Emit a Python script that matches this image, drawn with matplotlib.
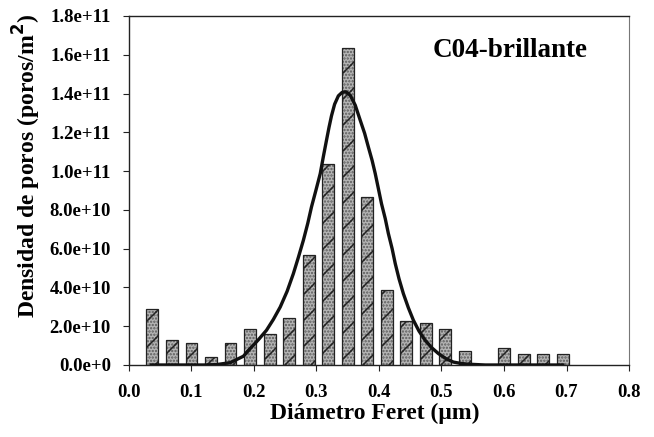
import matplotlib
matplotlib.use("Agg")
import matplotlib.pyplot as plt
import numpy as np

# lower dpi so the hatch lines come out as tight as in the original
DPI = 78
S = 100.0 / DPI

plt.rcParams['font.family'] = ['Liberation Serif', 'DejaVu Serif']
plt.rcParams['font.weight'] = 'bold'
plt.rcParams['hatch.linewidth'] = 1.1 * S

# bar centres (um) and pore density (x1e10 poros/m2)
diam = [0.0375, 0.0688, 0.1000, 0.1313, 0.1625, 0.1938, 0.2250, 0.2563,
        0.2875, 0.3188, 0.3500, 0.3813, 0.4125, 0.4438, 0.4750, 0.5063,
        0.5375, 0.5688, 0.6000, 0.6313, 0.6625, 0.6938]
dens = [2.89, 1.31, 1.15, 0.43, 1.15, 1.88, 1.58, 2.42,
        5.69, 10.39, 16.37, 8.66, 3.85, 2.25, 2.15, 1.87,
        0.72, 0.0, 0.86, 0.57, 0.57, 0.57]

# fitted curve
fit_x = [0.036, 0.08, 0.12, 0.14, 0.162, 0.183, 0.194, 0.207, 0.220, 0.231,
         0.242, 0.253, 0.263, 0.271, 0.279, 0.286, 0.292, 0.299, 0.306, 0.311,
         0.316, 0.320, 0.324, 0.329, 0.335, 0.341, 0.347, 0.354, 0.362, 0.370,
         0.377, 0.383, 0.389, 0.394, 0.399, 0.404, 0.410, 0.415, 0.421, 0.426,
         0.432, 0.439, 0.447, 0.455, 0.464, 0.474, 0.484, 0.495, 0.507, 0.519,
         0.531, 0.543, 0.57, 0.62, 0.694]
fit_y = [0.0, 0.0, 0.0, 0.02, 0.12, 0.45, 0.85, 1.30, 1.79, 2.35,
         2.99, 3.80, 4.71, 5.55, 6.43, 7.30, 8.15, 9.00, 9.87, 10.75,
         11.59, 12.25, 12.85, 13.45, 13.88, 14.06, 14.09, 13.91, 13.40, 12.62,
         11.95, 11.24, 10.55, 9.87, 9.10, 8.32, 7.55, 6.78, 6.00, 5.23,
         4.45, 3.68, 2.95, 2.31, 1.75, 1.27, 0.90, 0.59, 0.33, 0.15,
         0.08, 0.04, 0.0, 0.0, 0.0]

dens = np.array(dens) * 1e10
fit_y = np.array(fit_y) * 1e10

fig = plt.figure(figsize=(654 / DPI, 437 / DPI), dpi=DPI)
ax = fig.add_axes([0.1972, 0.1648, 0.7646, 0.7986])

ax.bar(diam, dens, width=0.019, color='#b4b4b4', hatch='....',
       edgecolor='#5a5a5a', linewidth=0, zorder=2)
ax.bar(diam, dens, width=0.019, facecolor='none', hatch='/',
       edgecolor='#222222', linewidth=0.9 * S, zorder=3)
ax.plot(fit_x, fit_y, color='#111111', linewidth=2.4 * S, zorder=4)

ax.set_xlim(0, 0.8)
ax.set_ylim(0, 1.8e11)
xt = np.arange(0, 0.81, 0.1)
ax.set_xticks(xt)
ax.set_xticklabels(['%.1f' % v for v in xt])
yt = np.arange(0, 1.81e11, 2e10)
ax.set_yticks(yt)
ylab = ['0.0e+0'] + ['%.1fe+10' % (v / 1e10) for v in yt[1:5]] + \
       ['%.1fe+11' % (v / 1e11) for v in yt[5:]]
ax.set_yticklabels(ylab)
ax.tick_params(direction='out', length=4 * S, width=0.8 * S, colors='#222222',
               labelsize=13.5 * S, labelcolor='black')
ax.tick_params(axis='x', pad=10 * S)
ax.tick_params(axis='y', pad=9 * S)

for s in ['left', 'bottom', 'top']:
    ax.spines[s].set_color('#222222')
    ax.spines[s].set_linewidth(1.0 * S)
ax.spines['right'].set_color('#777777')
ax.spines['right'].set_linewidth(0.8 * S)

ax.set_xlabel('Diámetro Feret (μm)', fontsize=17 * S, fontweight='bold')
ax.xaxis.set_label_coords(0.492, -0.108)
ax.set_ylabel('Densidad de poros (poros/m$^\\mathbf{2}$)', fontsize=17 * S,
              fontweight='bold')
ax.yaxis.set_label_coords(-0.172, 0.57)
ax.text(0.61, 1.623e11, 'C04-brillante', fontsize=19.5 * S, fontweight='bold',
        ha='center', va='center')

fig.savefig('out.png', dpi=DPI)
